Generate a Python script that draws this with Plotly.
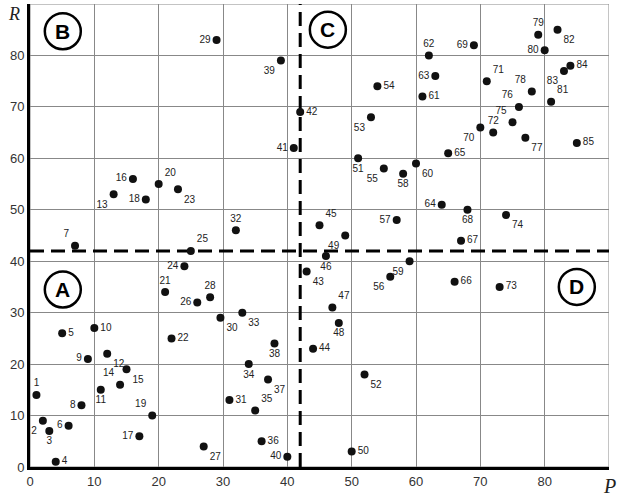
import plotly.graph_objects as go

# ---- data ----
point_ids = list(range(1, 86))
P = [1, 2, 3, 4, 5, 6, 7, 8, 9, 10,
     11, 12, 13, 14, 15, 16, 17, 18, 19, 20,
     21, 22, 23, 24, 25, 26, 27, 28, 29, 29.6,
     31, 32, 33, 34, 35, 36, 37, 38, 39, 40,
     41, 42, 43, 44, 45, 46, 47, 48, 49, 50,
     51, 52, 53, 54, 55, 56, 57, 58, 59, 60,
     61, 62, 63, 64, 65, 66, 67, 68, 69, 70,
     71, 72, 73, 74, 75, 76, 77, 78, 79, 80,
     81, 82, 83, 84, 85]
R = [14, 9, 7, 1, 26, 8, 43, 12, 21, 27,
     15, 22, 53, 16, 19, 56, 6, 52, 10, 55,
     34, 25, 54, 39, 42, 32, 4, 33, 83, 29,
     13, 46, 30, 20, 11, 5, 17, 24, 79, 2,
     62, 69, 38, 23, 47, 41, 31, 28, 45, 3,
     60, 18, 68, 74, 58, 37, 48, 57, 40, 59,
     72, 80, 76, 51, 61, 36, 44, 50, 82, 66,
     75, 65, 35, 49, 67, 70, 64, 73, 84, 81,
     71, 85, 77, 78, 63]
tick_vals = [0, 10, 20, 30, 40, 50, 60, 70, 80]
threshold_P = 42
threshold_R = 42
quadrant_names = ["A", "B", "C", "D"]
quadrant_P = [5.1, 5.1, 46.3, 85.0]
quadrant_R = [34.5, 84.7, 85.0, 35.0]
axis_max = 90

# ---- style: label placement for each point ----
label_pos = [
    "top center", "bottom left", "bottom center", "middle right", "middle right",
    "middle left", "top left", "middle left", "middle left", "middle right",
    "bottom center", "bottom right", "bottom left", "top left", "bottom right",
    "middle left", "middle left", "middle left", "top left", "top right",
    "top center", "middle right", "bottom right", "middle left", "top right",
    "middle left", "bottom right", "top center", "middle left", "bottom right",
    "middle right", "top center", "bottom right", "bottom center", "top right",
    "middle right", "bottom right", "bottom center", "bottom left", "middle left",
    "middle left", "middle right", "bottom right", "middle right", "top right",
    "bottom center", "top right", "bottom center", "bottom left", "middle right",
    "bottom center", "bottom right", "bottom left", "middle right", "bottom left",
    "bottom left", "middle left", "bottom center", "bottom left", "bottom right",
    "middle right", "top center", "middle left", "middle left", "middle right",
    "middle right", "middle right", "bottom center", "middle left", "bottom left",
    "top right", "top center", "middle right", "bottom right", "top left",
    "top left", "bottom right", "top left", "top center", "middle left",
    "top right", "bottom right", "bottom left", "middle right", "middle right",
]

fig = go.Figure()

# dashed threshold lines
fig.add_trace(go.Scatter(
    x=[0, axis_max], y=[threshold_R, threshold_R], mode="lines",
    line=dict(color="black", width=3, dash="14px,7px"),
    hoverinfo="skip", showlegend=False))
fig.add_trace(go.Scatter(
    x=[threshold_P, threshold_P], y=[0, axis_max], mode="lines",
    line=dict(color="black", width=3, dash="14px,7px"),
    hoverinfo="skip", showlegend=False))

# points
fig.add_trace(go.Scatter(
    x=P, y=R, mode="markers+text",
    text=[str(i) for i in point_ids],
    textposition=label_pos,
    textfont=dict(family="Liberation Sans, Arial, sans-serif", size=10, color="#222"),
    marker=dict(color="#111", size=8),
    showlegend=False, cliponaxis=False))

shapes = [
    dict(type="rect", xref="x", yref="y", x0=0, x1=axis_max, y0=0, y1=axis_max,
         line=dict(color="#888", width=1), layer="below"),
]
annotations = []
for name, qx, qy in zip(quadrant_names, quadrant_P, quadrant_R):
    shapes.append(dict(type="circle", xref="x", yref="y",
                       xsizemode="pixel", ysizemode="pixel",
                       xanchor=qx, yanchor=qy, x0=-18, x1=18, y0=-18, y1=18,
                       line=dict(color="black", width=2.5),
                       fillcolor="white", layer="above"))
    annotations.append(dict(x=qx, y=qy, xref="x", yref="y", text=f"<b>{name}</b>",
                            showarrow=False,
                            font=dict(family="Liberation Sans, Arial", size=21, color="black")))

annotations.append(dict(x=1, y=0, xref="paper", yref="paper", text="<i>P</i>",
                        showarrow=False, xanchor="center", yanchor="top", yshift=-6, xshift=0,
                        font=dict(family="Liberation Serif, Times New Roman", size=20, color="#222")))
annotations.append(dict(x=0, y=1, xref="paper", yref="paper", text="<i>R</i>",
                        showarrow=False, xanchor="right", yanchor="top", xshift=-8, yshift=2,
                        font=dict(family="Liberation Serif, Times New Roman", size=18, color="#222")))

fig.update_layout(
    width=624, height=502,
    margin=dict(l=30, r=15, t=4, b=35),
    paper_bgcolor="white", plot_bgcolor="white",
    shapes=shapes, annotations=annotations,
    xaxis=dict(range=[0, axis_max], tickvals=tick_vals, showgrid=True,
               gridcolor="#888", gridwidth=1, zeroline=False,
               showline=True, linecolor="black", linewidth=3,
               ticks="", tickfont=dict(family="Liberation Sans, Arial", size=13, color="#333"),
               fixedrange=True, automargin=False),
    yaxis=dict(range=[0, axis_max], tickvals=tick_vals, showgrid=True,
               gridcolor="#888", gridwidth=1, zeroline=False,
               showline=True, linecolor="black", linewidth=3,
               ticks="", tickfont=dict(family="Liberation Sans, Arial", size=13, color="#333"),
               fixedrange=True, automargin=False),
)

fig.write_html("out.html",
               config={"displayModeBar": False},
               post_script="document.body.style.margin='0';document.body.style.overflow='hidden';")
